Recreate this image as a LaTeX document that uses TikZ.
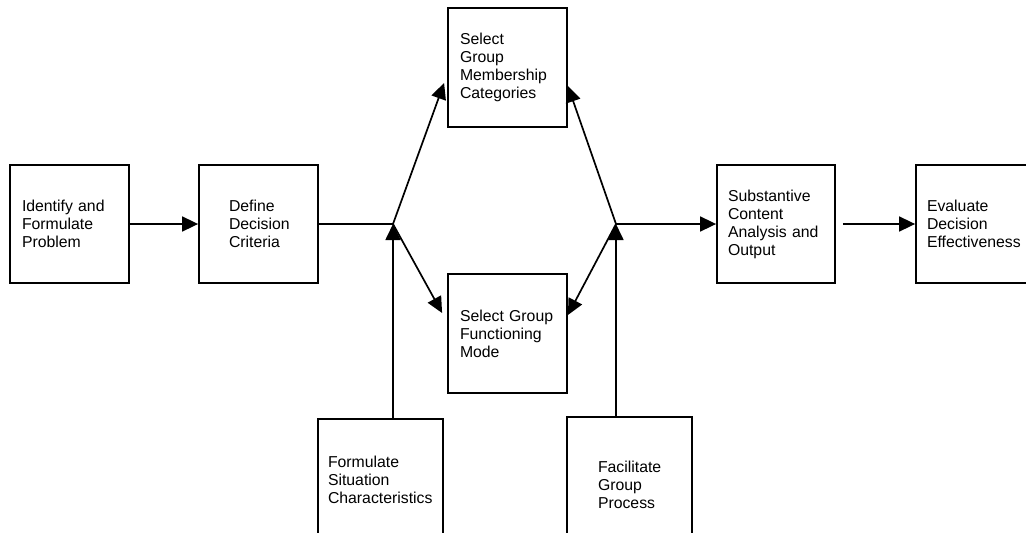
\documentclass[tikz,border=0pt]{standalone}
\usepackage{fontspec}
\setmainfont{Liberation Sans}
\usetikzlibrary{arrows.meta}

\begin{document}
\begin{tikzpicture}[x=1pt,y=-1pt,
		stepbox/.style={draw,line width=1.8pt,inner ysep=0pt,align=left,font=\fontsize{15.8}{18}\selectfont},
		squarebox/.style={stepbox,minimum width=119pt,minimum height=118pt,inner xsep=12pt,text width=95pt},
		indentbox/.style={squarebox,inner xsep=30pt,text width=59pt},
		link/.style={line width=1.7pt},
		flow/.style={link,-{Triangle[length=16pt,width=15pt]}}]
		\useasboundingbox (0,0) rectangle (1026,533);
		\node [squarebox] (identify) at (69.5,224) {Identify and\\Formulate\\Problem};
		\node [indentbox] (criteria) at (258.5,224) {Define\\Decision\\Criteria};
		\node [squarebox,minimum height=119pt] (membership) at (507.5,67.5) {Select\\Group\\Membership\\Categories};
		\node [squarebox,minimum height=119pt] (mode) at (507.5,333.5) {Select Group\\Functioning\\Mode};
		\node [stepbox,minimum width=125pt,minimum height=121pt,inner xsep=10pt,text width=105pt] (situation) at (380.5,479.5) {Formulate\\Situation\\Characteristics};
		\node [stepbox,minimum width=125pt,minimum height=135pt,inner xsep=31pt,text width=63pt] (process) at (629.5,484.5) {Facilitate\\Group\\Process};
		\node [squarebox,minimum width=118pt,inner xsep=11pt,text width=96pt] (content) at (776,224) {Substantive\\Content\\Analysis and\\Output};
		\node [squarebox,minimum width=118pt,inner xsep=11pt,text width=96pt] (evaluate) at (975,224) {Evaluate\\Decision\\Effectiveness};
		\coordinate (split) at (393,224);
		\coordinate (merge) at (616,224);
		\draw [flow] (identify) -- (criteria);
		\draw [link] (criteria) -- (split);
		\draw [flow] (split |- situation.north) -- (split);
		\draw [flow] (split) -- ([xshift=-3pt,yshift=-15.5pt]membership.west);
		\draw [flow] (split) -- ([xshift=-5pt,yshift=20.5pt]mode.west);
		\draw [flow] (merge |- process.north) -- (merge);
		\draw [flow] (merge) -- ([yshift=-18.5pt]membership.east);
		\draw [flow] (merge) -- ([yshift=18.5pt]mode.east);
		\draw [flow] (merge) -- (content);
		\draw [flow,shorten <=7pt] (content) -- (evaluate);
	\end{tikzpicture}
\end{document}
